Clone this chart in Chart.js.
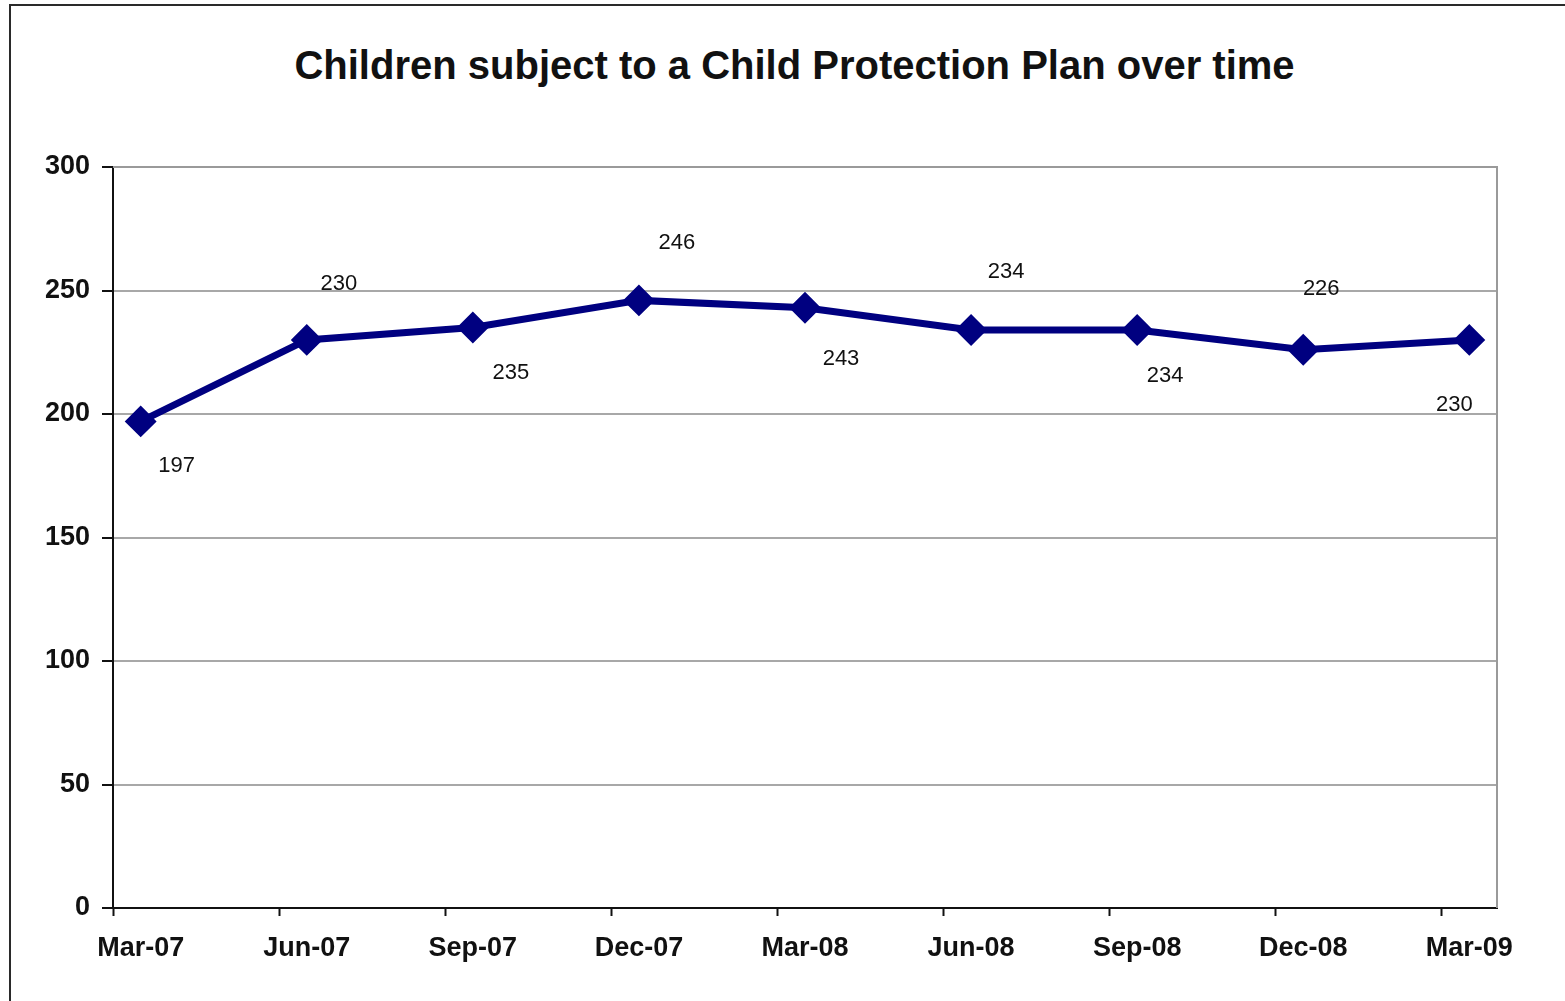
<!DOCTYPE html>
<html>
<head>
<meta charset="utf-8">
<script src="https://cdn.jsdelivr.net/npm/chart.js@4.4.0/dist/chart.umd.min.js"></script>
<style>
  html, body { margin: 0; padding: 0; background: #fff; overflow: hidden; }
  #frame { position: absolute; left: 9px; top: 4px; width: 1600px; height: 1100px; border: 2px solid #2a2a2a; }
  #title {
    position: absolute; left: 0; top: 45px; width: 1589px; text-align: center;
    font: bold 40px/40px 'Liberation Sans', Arial, sans-serif; color: #111;
  }
  #wrap { position: absolute; left: 0; top: 0; width: 1565px; height: 1001px; }
</style>
</head>
<body>
<div id="frame"></div>
<div id="title">Children subject to a Child Protection Plan over time</div>
<div id="wrap"><canvas id="lineChart"></canvas></div>
<script>
// quarters shown on the axis, one point per quarter
const categories = ["Mar-07", "Jun-07", "Sep-07", "Dec-07", "Mar-08", "Jun-08", "Sep-08", "Dec-08", "Mar-09"];
const children = [197, 230, 235, 246, 243, 234, 234, 226, 230];
const yTicks = [0, 50, 100, 150, 200, 250, 300];

// months per quarter; axis runs in month bins like the original date axis
const monthsPerStep = 3;
const totalMonths = (categories.length - 1) * monthsPerStep + 1;

// where each value label sits relative to its marker (px)
const labelShift = [[36, 45], [32, -56], [38, 45], [38, -57], [36, 51], [35, -58], [28, 46], [18, -61], [-15, 65]];

const points = children.map((v, i) => ({ x: i * monthsPerStep + 0.5, y: v }));

const frameBox = {
  id: "frameBox",
  beforeDatasetsDraw(chart) {
    const { ctx, chartArea } = chart;
    ctx.save();
    ctx.strokeStyle = "#9a9a9a";
    ctx.lineWidth = 2;
    ctx.beginPath();
    ctx.moveTo(chartArea.left, chartArea.top);
    ctx.lineTo(chartArea.right, chartArea.top);
    ctx.lineTo(chartArea.right, chartArea.bottom);
    ctx.stroke();
    ctx.restore();
  }
};

const valueLabels = {
  id: "valueLabels",
  afterDatasetsDraw(chart) {
    const { ctx } = chart;
    const meta = chart.getDatasetMeta(0);
    ctx.save();
    ctx.font = "22px 'Liberation Sans', Arial, sans-serif";
    ctx.fillStyle = "#111";
    ctx.textAlign = "center";
    ctx.textBaseline = "middle";
    meta.data.forEach((pt, i) => {
      const [dx, dy] = labelShift[i];
      ctx.fillText(String(children[i]), pt.x + dx, pt.y + dy);
    });
    ctx.restore();
  }
};

const tickFont = { family: "'Liberation Sans', Arial, sans-serif", size: 27, weight: "bold" };

const ctx = document.getElementById("lineChart").getContext("2d");
new Chart(ctx, {
  type: "line",
  data: {
    datasets: [{
      label: "Children",
      data: points,
      borderColor: "#000080",
      backgroundColor: "#000080",
      borderWidth: 7,
      pointStyle: "rectRot",
      pointRadius: 11,
      pointHoverRadius: 11,
      tension: 0
    }]
  },
  options: {
    responsive: true,
    maintainAspectRatio: false,
    animation: false,
    layout: { padding: { left: 0, right: 68, top: 167, bottom: 0 } },
    plugins: {
      legend: { display: false },
      tooltip: { enabled: false },
      title: { display: false }
    },
    scales: {
      x: {
        type: "linear",
        min: 0,
        max: totalMonths,
        afterBuildTicks(scale) {
          scale.ticks = categories.map((c, i) => ({ value: i * monthsPerStep }));
        },
        afterFit(scale) { scale.height = 1001 - 908; },
        ticks: {
          autoSkip: false,
          maxRotation: 0,
          labelOffset: 27.7,
          padding: 16,
          color: "#111",
          font: tickFont,
          callback: (v) => categories[v / monthsPerStep]
        },
        grid: { drawOnChartArea: false, tickLength: 8, tickColor: "#111", tickWidth: 2 },
        border: { color: "#111", width: 2 }
      },
      y: {
        min: 0,
        max: 300,
        afterBuildTicks(scale) {
          scale.ticks = yTicks.map(v => ({ value: v }));
        },
        afterFit(scale) { scale.width = 113; },
        ticks: {
          padding: 12,
          color: "#111",
          font: tickFont
        },
        grid: { color: "#a8a8a8", lineWidth: 2, tickLength: 11, tickColor: "#111", tickWidth: 2 },
        border: { color: "#111", width: 2 }
      }
    }
  },
  plugins: [frameBox, valueLabels]
});
</script>
</body>
</html>
